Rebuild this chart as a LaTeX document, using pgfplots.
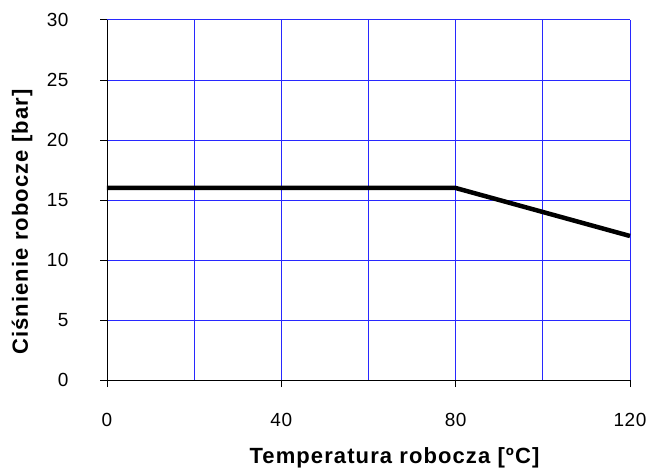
\documentclass[border=0pt]{standalone}
\usepackage{pgfplots}
\pgfplotsset{compat=1.18}
\usepackage{fontspec}
\setmainfont{Liberation Sans}
\newfontfamily\lblfont[LetterSpace=5]{Liberation Sans}
\newfontfamily\tickfont[LetterSpace=3]{Liberation Sans}
\definecolor{gridblue}{RGB}{40,40,255}
\begin{document}
\begin{tikzpicture}
\begin{axis}[
  name=ax,
  scale only axis,
  width=523bp, height=360bp,
  xmin=0, xmax=120, ymin=0, ymax=30,
  axis lines=left,
  axis line style={-, line width=1pt},
  xtick={0,40,80,120},
  minor xtick={20,60,100},
  ytick={0,5,...,30},
  grid=both,
  grid style={gridblue, line width=1pt},
  major grid style={gridblue, line width=1pt},
  minor grid style={gridblue, line width=1pt},
  tick align=outside,
  major tick length=7bp,
  minor tick length=0pt,
  major tick style={black, line width=1pt},
  /pgf/number format/assume math mode=true,
  tick label style={font=\tickfont\fontsize{19bp}{21bp}\selectfont},
  xticklabel style={anchor=center, yshift=-33bp},
  yticklabel style={anchor=east, xshift=-28bp},
  every axis x label/.style={at={(axis description cs:0.5,0)}, anchor=center, yshift=-78bp, xshift=26bp},
  every axis y label/.style={at={(axis description cs:0,0.5)}, rotate=90, anchor=center, yshift=85bp, xshift=-22bp},
  label style={font=\lblfont\bfseries\fontsize{22bp}{24bp}\selectfont},
  xlabel={Temperatura robocza [ºC]},
  ylabel={Ciśnienie robocze [bar]},
  clip=false,
]
\addplot[black, line width=4.5bp] coordinates {(0,16) (80,16) (120,12)};
\end{axis}
\pgfresetboundingbox
\path ([xshift=-107bp,yshift=-88bp]ax.south west) rectangle ([xshift=20bp,yshift=20bp]ax.north east);
\end{tikzpicture}
\end{document}
